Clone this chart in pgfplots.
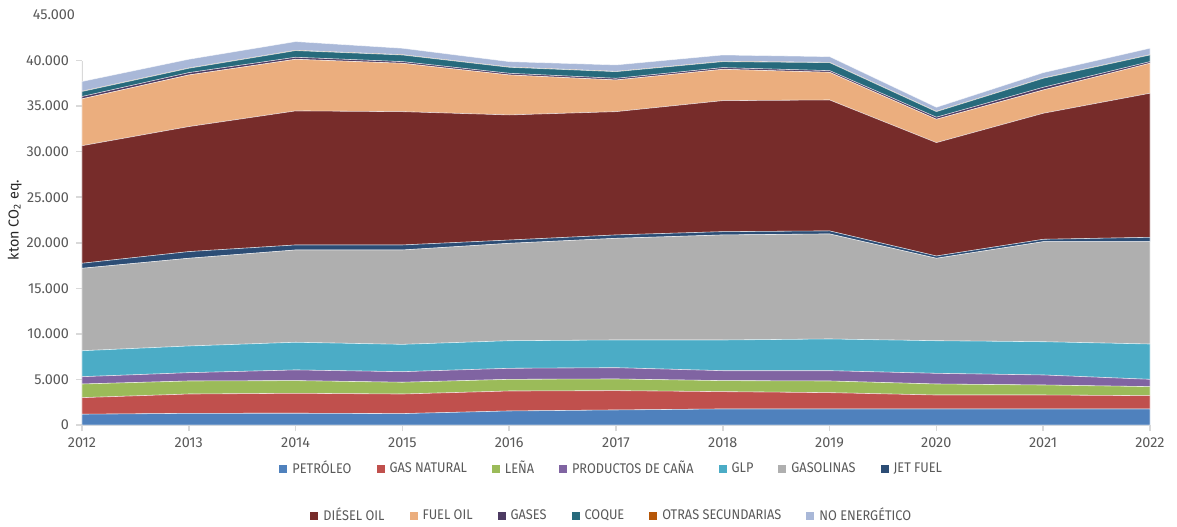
\documentclass[border=0pt]{standalone}
\usepackage{pgfplots}
\usepackage{pgfplotstable}
\pgfplotsset{compat=1.18}
\usepackage{fontspec}
\setmainfont{Fira Sans}
\newfontfamily\legfont[FakeStretch=0.91]{Fira Sans}

\definecolor{cPet}{HTML}{4F81BD}
\definecolor{cGas}{HTML}{C0504D}
\definecolor{cLen}{HTML}{9BBB59}
\definecolor{cCan}{HTML}{8064A2}
\definecolor{cGlp}{HTML}{4BACC6}
\definecolor{cGsl}{HTML}{AFAFAF}
\definecolor{cJet}{HTML}{2C4D75}
\definecolor{cDie}{HTML}{772C2A}
\definecolor{cFo}{HTML}{EBAE7E}
\definecolor{cGse}{HTML}{4D3B62}
\definecolor{cCoq}{HTML}{276A7C}
\definecolor{cOtr}{HTML}{B65708}
\definecolor{cNoe}{HTML}{A9B8D8}
\definecolor{txt}{HTML}{595959}
\definecolor{axl}{HTML}{D9D9D9}

% kton CO2 eq. por fuente, 2012-2022
\pgfplotstableread{
year pet gas lena cana glp gasol jet diesel fo gases coque otras noe
2012 1180 1820 1500 800 2850 9050 550 12900 5150 250 550 30 1070
2013 1280 2120 1430 910 2930 9630 730 13720 5670 250 480 30 960
2014 1290 2190 1390 1170 3040 10130 550 14710 5670 220 730 30 960
2015 1250 2150 1290 1160 3000 10360 550 14630 5310 180 730 30 710
2016 1540 2190 1280 1210 3030 10690 360 13730 4390 180 660 30 590
2017 1650 2120 1280 1240 3040 11160 370 13530 3480 180 730 30 710
2018 1760 1900 1210 1090 3370 11530 360 14380 3440 180 660 30 700
2019 1760 1790 1280 1130 3480 11530 330 14370 3040 180 880 30 630
2020 1760 1530 1210 1170 3580 9050 250 12440 2570 220 610 30 450
2021 1760 1530 1100 1100 3650 10980 260 13830 2560 290 990 30 590
2022 1760 1460 990 800 3880 11230 480 15810 3290 180 730 30 710
}\emisiones

\pgfplotsset{
  capa/.style={fill=#1, draw=white, draw opacity=0.6, line width=0.3pt},
  cuadro/.style={legend image code/.code={\fill[##1, draw=none] (0pt,-2pt) rectangle (4pt,2pt);}},
}

\begin{document}
\begin{tikzpicture}
\useasboundingbox (-41pt,-50.5pt) rectangle (547.5pt,212.5pt);
\begin{axis}[
  at={(0,0)}, anchor=south west,
  scale only axis, width=534pt, height=205pt,
  stack plots=y,
  xmin=2012, xmax=2022, ymin=0, ymax=45000,
  xtick={2012,...,2022},
  ytick={0,5000,...,40000},
  extra y ticks={45000},
  extra y tick style={major tick length=0pt},
  axis x line*=bottom, axis y line*=left,
  axis line style={axl, line width=0.8pt},
  y axis line style={draw=none},
  tick align=outside, major tick length=3pt,
  tick style={axl, line width=0.8pt},
  xticklabel style={/pgf/number format/1000 sep=},
  yticklabel style={/pgf/number format/1000 sep={.}},
  /pgf/number format/assume math mode=true,
  scaled y ticks=false,
  tick label style={font=\fontsize{7.2}{8}\selectfont, text=txt},
  ylabel={kton CO\textsubscript{2} eq.},
  y label style={at={(axis description cs:-0.063,0.5)}, anchor=center, font=\fontsize{7.2}{8}\selectfont, text=black!85},
  cuadro,
  legend style={draw=none, at={(0.497,-0.107)}, anchor=center,
    font=\legfont\fontsize{7}{8}\selectfont, text=txt,
    /tikz/every even column/.append style={column sep=10.5pt},
    /tikz/every odd column/.append style={column sep=0.5pt}},
  legend columns=-1,
]
\addplot[capa=cPet] table[x=year,y=pet] {\emisiones} \closedcycle;
\addplot[capa=cGas] table[x=year,y=gas] {\emisiones} \closedcycle;
\addplot[capa=cLen] table[x=year,y=lena] {\emisiones} \closedcycle;
\addplot[capa=cCan] table[x=year,y=cana] {\emisiones} \closedcycle;
\addplot[capa=cGlp] table[x=year,y=glp] {\emisiones} \closedcycle;
\addplot[capa=cGsl] table[x=year,y=gasol] {\emisiones} \closedcycle;
\addplot[capa=cJet] table[x=year,y=jet] {\emisiones} \closedcycle;
\addplot[capa=cDie] table[x=year,y=diesel] {\emisiones} \closedcycle;
\addplot[capa=cFo] table[x=year,y=fo] {\emisiones} \closedcycle;
\addplot[capa=cGse] table[x=year,y=gases] {\emisiones} \closedcycle;
\addplot[capa=cCoq] table[x=year,y=coque] {\emisiones} \closedcycle;
\addplot[capa=cOtr] table[x=year,y=otras] {\emisiones} \closedcycle;
\addplot[capa=cNoe] table[x=year,y=noe] {\emisiones} \closedcycle;
\legend{PETRÓLEO, GAS NATURAL, LEÑA, PRODUCTOS DE CAÑA, GLP, GASOLINAS, JET FUEL}
\draw[axl, line width=0.8pt] (axis cs:2012,0) -- (axis cs:2012,40000);
\end{axis}
\begin{axis}[
  at={(0,0)}, anchor=south west,
  scale only axis, width=534pt, height=205pt,
  hide axis, xmin=0, xmax=1, ymin=0, ymax=1,
  cuadro,
  legend style={draw=none, at={(0.497,-0.222)}, anchor=center,
    font=\legfont\fontsize{7}{8}\selectfont, text=txt,
    /tikz/every even column/.append style={column sep=10.5pt},
    /tikz/every odd column/.append style={column sep=0.5pt}},
  legend columns=-1,
]
\addlegendimage{fill=cDie}
\addlegendimage{fill=cFo}
\addlegendimage{fill=cGse}
\addlegendimage{fill=cCoq}
\addlegendimage{fill=cOtr}
\addlegendimage{fill=cNoe}
\legend{DIÉSEL OIL, FUEL OIL, GASES, COQUE, OTRAS SECUNDARIAS, NO ENERGÉTICO}
\end{axis}
\end{tikzpicture}
\end{document}
